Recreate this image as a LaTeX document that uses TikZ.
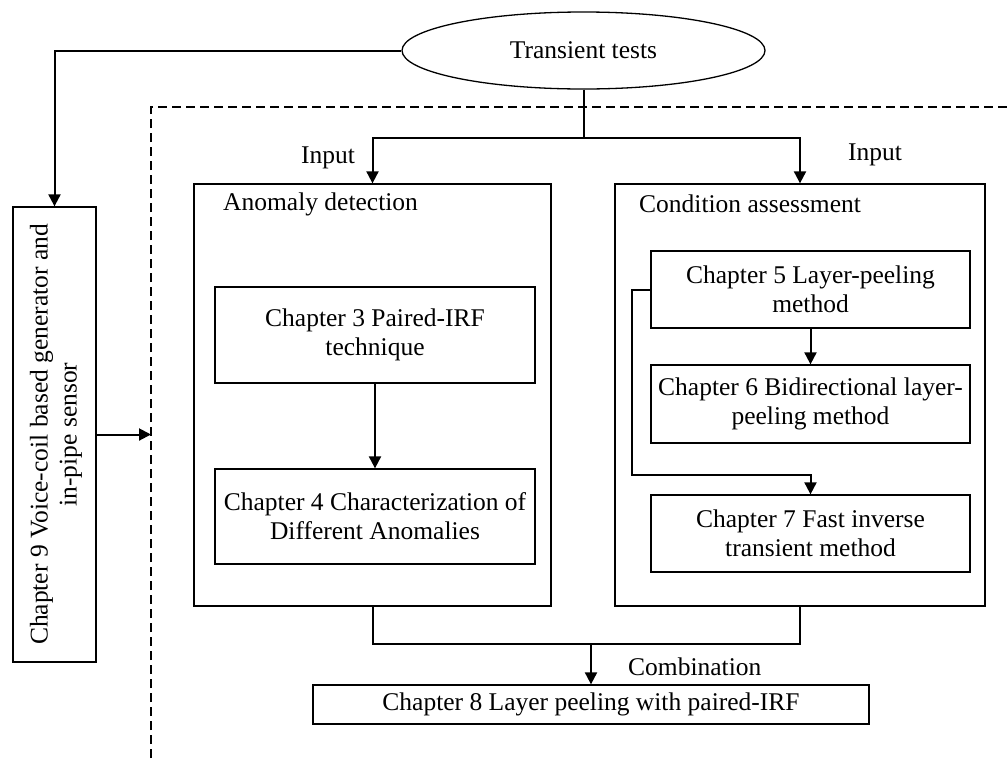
\documentclass[tikz,border=0pt]{standalone}
\usepackage{fontspec}
\setmainfont{Liberation Serif}
\usetikzlibrary{shapes.geometric,arrows.meta,calc}
\begin{document}
\begin{tikzpicture}[x=1pt,y=-1pt,
  every node/.style={font=\fontsize{25.5}{29}\selectfont, inner sep=0pt},
  box/.style={draw, line width=1.3pt, align=center},
  conn/.style={line width=2pt},
  arr/.style={line width=2pt, -{Triangle[length=12pt,width=12pt]}},
  dashline/.style={line width=1.2pt, dash pattern=on 9pt off 5pt}]
\useasboundingbox (0,0) rectangle (1008,758);
% dashed frame
\draw[dashline] (151,758) -- (151,107) -- (1008,107);
\coordinate (dl) at (151,435);
% ellipse
\node[draw, ellipse, line width=1.3pt, minimum width=363pt, minimum height=77pt] (tt) at (583.5,50.5) {Transient tests};
% chapter 9
\node[box, minimum width=83pt, minimum height=455pt] (c9) at (54.5,434.5) {};
\node[rotate=90, align=center] (c9t) at (56,434.5) {Chapter 9 Voice-coil based generator and\\in-pipe sensor};
% outer group boxes
\node[box, minimum width=357pt, minimum height=422pt] (ad) at (372.5,395) {};
\node[box, minimum width=370pt, minimum height=422pt] (ca) at (800,395) {};
\node[anchor=west] (adt) at (223,204) {Anomaly detection};
\node[anchor=west] (cat) at (639,204) {Condition assessment};
% chapter boxes
\node[box, minimum width=320pt, minimum height=96pt] (c3) at (375,335) {Chapter 3 Paired-IRF\\technique};
\node[box, minimum width=320pt, minimum height=95pt] (c4) at (375,516.5) {Chapter 4 Characterization of\\Different Anomalies};
\node[box, minimum width=319pt, minimum height=77pt] (c5) at (810.5,289.5) {Chapter 5 Layer-peeling\\method};
\node[box, minimum width=319pt, minimum height=78pt] (c6) at (810.5,404) {Chapter 6 Bidirectional layer-\\peeling method};
\node[box, minimum width=319pt, minimum height=77pt] (c7) at (810.5,533.5) {Chapter 7 Fast inverse\\transient method};
\node[box, minimum width=556pt, minimum height=39pt] (c8) at (591,704.5) {Chapter 8 Layer peeling with paired-IRF};
% labels
\node (in1) at (328,158) {Input};
\node (in2) at (875,155) {Input};
\node[anchor=west] (comb) at (628,667) {Combination};
% connectors
\draw[arr] (tt.west) -| (c9.north);
\coordinate (split) at (583.5,138);
\draw[conn] (tt.south) -- (split);
\draw[arr] (split) -| (ad.north);
\draw[arr] (split) -| (ca.north);
\draw[arr] (c9.east) -- (c9.east -| dl);
\draw[arr] (c3) -- (c4);
\draw[arr] (c5) -- (c6);
\coordinate (loopa) at (632,475);
\draw[arr] (c5.west) -| (loopa) -| (c7.north);
\coordinate (mergel) at (372.5,644);
\coordinate (merge) at (591,644);
\draw[conn] (ad.south) -- (mergel) -| (ca.south);
\draw[arr] (merge) -- (c8.north);
\end{tikzpicture}
\end{document}
